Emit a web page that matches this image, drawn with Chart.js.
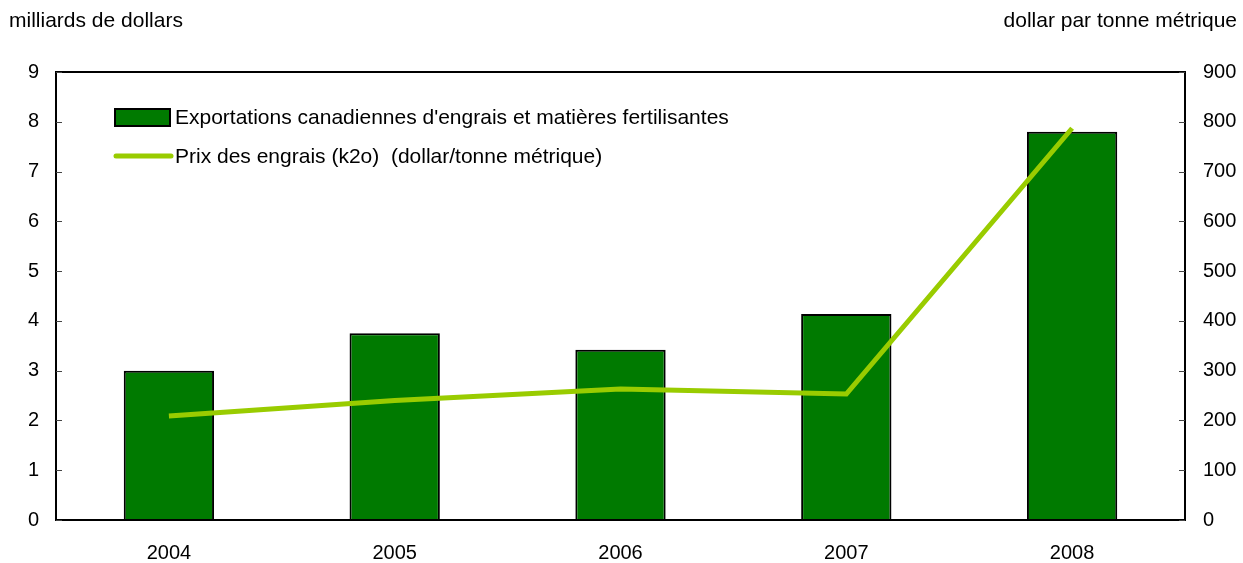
<!DOCTYPE html>
<html><head><meta charset="utf-8">
<script src="https://cdn.jsdelivr.net/npm/chart.js@4/dist/chart.umd.min.js"></script>
<style>html,body{margin:0;padding:0;background:#fff}canvas{display:block}</style>
</head><body>
<div style="width:1243px;height:563px"><canvas id="c" width="1243" height="563"></canvas></div>
<script>
const years = ['2004','2005','2006','2007','2008'];
const exportsBn = [3.0, 3.75, 3.42, 4.14, 7.8];
const pricePerTonne = [209, 240, 263, 253, 787];
const leftTicks = [0,1,2,3,4,5,6,7,8,9];
const rightTicks = [0,100,200,300,400,500,600,700,800,900];
const barLabel = "Exportations canadiennes d'engrais et matières fertilisantes";
const lineLabel = "Prix des engrais (k2o)  (dollar/tonne métrique)";
const leftTitle = 'milliards de dollars';
const rightTitle = 'dollar par tonne métrique';

const FONT = '"Liberation Sans", Arial, Helvetica, sans-serif';
const BAR_COLOR = '#007A00';
const LINE_COLOR = '#99CC00';

const decor = {
  id: 'decor',
  afterDraw(chart) {
    const ctx = chart.ctx, a = chart.chartArea;
    const y = chart.scales.y, y1 = chart.scales.y1;
    ctx.save();
    // frame
    ctx.strokeStyle = '#000'; ctx.lineWidth = 2;
    ctx.strokeRect(a.left, a.top, a.right - a.left, a.bottom - a.top);
    // inner ticks
    ctx.lineWidth = 1;
    ctx.strokeStyle = '#444';
    leftTicks.forEach(v => {
      const py = Math.round(y.getPixelForValue(v)) + 0.5;
      ctx.beginPath(); ctx.moveTo(a.left, py); ctx.lineTo(a.left + 6, py); ctx.stroke();
    });
    rightTicks.forEach(v => {
      const py = Math.round(y1.getPixelForValue(v)) + 0.5;
      ctx.beginPath(); ctx.moveTo(a.right - 6, py); ctx.lineTo(a.right, py); ctx.stroke();
    });
    // titles
    ctx.fillStyle = '#000';
    ctx.font = '21px ' + FONT;
    ctx.textBaseline = 'middle';
    ctx.textAlign = 'left';
    ctx.fillText(leftTitle, 9, 21);
    ctx.textAlign = 'right';
    ctx.fillText(rightTitle, 1237, 21);
    // legend
    ctx.textAlign = 'left';
    ctx.fillStyle = BAR_COLOR;
    ctx.fillRect(115, 109, 55, 17);
    ctx.strokeStyle = '#000'; ctx.lineWidth = 2;
    ctx.strokeRect(115, 109, 55, 17);
    ctx.fillStyle = '#000';
    ctx.fillText(barLabel, 175, 118);
    ctx.strokeStyle = LINE_COLOR; ctx.lineWidth = 5; ctx.lineCap = 'round';
    ctx.beginPath(); ctx.moveTo(116, 156); ctx.lineTo(171, 156); ctx.stroke();
    ctx.fillText(lineLabel, 175, 157);
    ctx.restore();
  }
};

new Chart(document.getElementById('c'), {
  data: {
    labels: years,
    datasets: [
      { type: 'line', label: lineLabel, data: pricePerTonne, yAxisID: 'y1',
        borderColor: LINE_COLOR, borderWidth: 5, pointRadius: 0, tension: 0, order: 0 },
      { type: 'bar', label: barLabel, data: exportsBn, yAxisID: 'y',
        backgroundColor: BAR_COLOR, borderColor: '#000', borderWidth: 2,
        barPercentage: 0.4, categoryPercentage: 1, order: 1 }
    ]
  },
  options: {
    responsive: false, animation: false,
    layout: { padding: { top: 72, left: 0, right: 0, bottom: 0 } },
    plugins: { legend: { display: false }, tooltip: { enabled: false } },
    scales: {
      x: {
        grid: { display: false, drawTicks: false },
        border: { display: false },
        ticks: { color: '#000', font: { size: 20, family: FONT }, padding: 21 },
        afterFit: s => { s.height = 43; }
      },
      y: {
        position: 'left', min: 0, max: 9,
        grid: { display: false, drawTicks: false },
        border: { display: false },
        ticks: { stepSize: 1, color: '#000', font: { size: 20, family: FONT }, padding: 17 },
        afterFit: s => { s.width = 56; }
      },
      y1: {
        position: 'right', min: 0, max: 900,
        grid: { display: false, drawTicks: false },
        border: { display: false },
        ticks: { stepSize: 100, color: '#000', font: { size: 20, family: FONT }, padding: 18 },
        afterFit: s => { s.width = 58; }
      }
    }
  },
  plugins: [decor]
});
</script>
</body></html>
